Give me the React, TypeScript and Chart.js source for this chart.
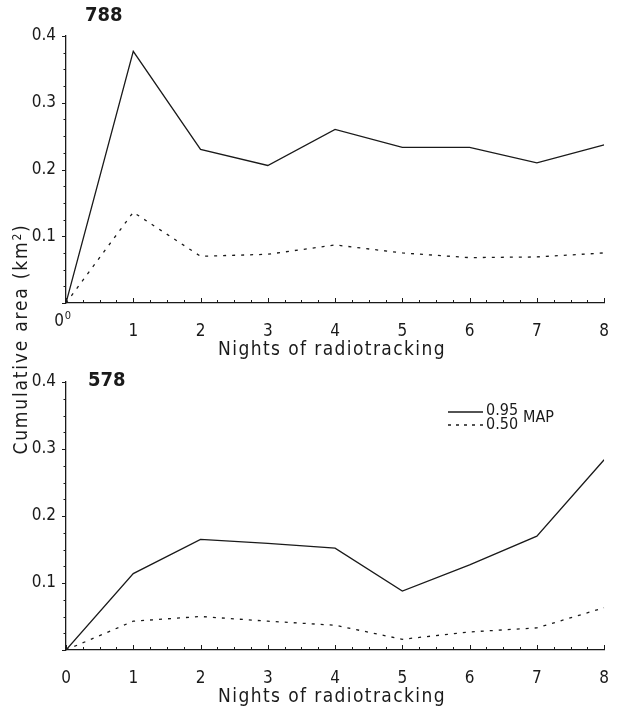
import React, { useEffect, useRef } from "react";
import { Chart, registerables } from "chart.js";

Chart.register(...registerables);

// ---- data ----
const nights = [0, 1, 2, 3, 4, 5, 6, 7, 8];
const map95_788 = [0, 0.377, 0.23, 0.206, 0.26, 0.233, 0.233, 0.21, 0.237];
const map50_788 = [0, 0.136, 0.07, 0.073, 0.087, 0.075, 0.068, 0.069, 0.075];
const map95_578 = [0, 0.114, 0.165, 0.159, 0.152, 0.088, 0.127, 0.17, 0.284];
const map50_578 = [0, 0.043, 0.05, 0.043, 0.037, 0.016, 0.027, 0.033, 0.063];
const yTickValues = [0.1, 0.2, 0.3, 0.4];
const panelTitles = ["788", "578"];
const xTitle = "Nights of radiotracking";
const legendLabels = ["0.95", "0.50"];
const legendSuffix = "MAP";

const FONT = "'Liberation Sans Narrow', 'DejaVu Sans Condensed', Roboto, sans-serif";
const INK = "#1a1a1a";

type PanelOpts = {
  title: string;
  titleX: number;
  titleY: number;
  padTop: number;
  legend: boolean;
  superZero: boolean;
};

function makeChart(canvas: HTMLCanvasElement, solid: number[], dashed: number[], o: PanelOpts) {
  const toPts = (arr: number[]) => nights.map((n, i) => ({ x: n, y: arr[i] }));
  const deco = {
    id: "deco",
    afterDraw(chart: any) {
      const ctx = chart.ctx as CanvasRenderingContext2D;
      const xs = chart.scales.x;
      const ys = chart.scales.y;
      const { left, bottom } = chart.chartArea;
      ctx.save();
      ctx.strokeStyle = INK;
      ctx.lineWidth = 1;
      // minor ticks on x (pointing up)
      for (let i = 0; i <= 32; i++) {
        const px = Math.round(xs.getPixelForValue(i * 0.25)) + 0.5;
        const len = i % 4 === 0 ? 5 : 3;
        ctx.beginPath();
        ctx.moveTo(px, bottom);
        ctx.lineTo(px, bottom - len);
        ctx.stroke();
      }
      // minor ticks on y (pointing left)
      for (let i = 0; i <= 16; i++) {
        const py = Math.round(ys.getPixelForValue(i * 0.025)) + 0.5;
        const len = i % 4 === 0 ? 4 : 2.5;
        ctx.beginPath();
        ctx.moveTo(left, py);
        ctx.lineTo(left - len, py);
        ctx.stroke();
      }
      ctx.fillStyle = INK;
      // x title
      (ctx as any).letterSpacing = "1.4px";
      ctx.font = `19px ${FONT}`;
      ctx.textAlign = "center";
      ctx.textBaseline = "middle";
      ctx.fillText(xTitle, 332, bottom + 47);
      (ctx as any).letterSpacing = "0px";
      // zero label for top panel
      if (o.superZero) {
        ctx.font = `17px ${FONT}`;
        ctx.textBaseline = "top";
        ctx.fillText("0", left - 7, bottom + 10);
        ctx.font = `11px ${FONT}`;
        ctx.fillText("0", left + 2, bottom + 8);
      }
      // panel title
      ctx.font = `bold 20px ${FONT}`;
      ctx.textAlign = "left";
      ctx.textBaseline = "middle";
      ctx.fillText(o.title, o.titleX, o.titleY);
      // legend
      if (o.legend) {
        const off = 360;
        ctx.lineWidth = 1.3;
        ctx.beginPath();
        ctx.moveTo(448, 412 - off);
        ctx.lineTo(483, 412 - off);
        ctx.stroke();
        ctx.setLineDash([3, 5]);
        ctx.beginPath();
        ctx.moveTo(448, 425 - off);
        ctx.lineTo(483, 425 - off);
        ctx.stroke();
        ctx.setLineDash([]);
        ctx.font = `16px ${FONT}`;
        ctx.textAlign = "left";
        ctx.fillText(legendLabels[0], 486, 411 - off);
        ctx.fillText(legendLabels[1], 486, 425 - off);
        ctx.fillText(legendSuffix, 523, 418 - off);
      }
      ctx.restore();
    },
  };

  return new Chart(canvas, {
    type: "line",
    data: {
      datasets: [
        {
          data: toPts(solid),
          borderColor: INK,
          borderWidth: 1.3,
          pointRadius: 0,
          tension: 0,
        },
        {
          data: toPts(dashed),
          borderColor: INK,
          borderWidth: 1.3,
          borderDash: [3, 6],
          pointRadius: 0,
          tension: 0,
        },
      ],
    },
    options: {
      animation: false,
      responsive: false,
      devicePixelRatio: 1,
      layout: { padding: { top: o.padTop, right: 5, left: 0, bottom: 0 } },
      plugins: { legend: { display: false }, tooltip: { enabled: false } },
      scales: {
        x: {
          type: "linear",
          min: 0,
          max: 8,
          grid: { display: false },
          border: { display: true, color: INK, width: 1.3 },
          ticks: {
            stepSize: 1,
            padding: 10,
            color: INK,
            font: { family: FONT, size: 17 },
            callback: (v: any) => (o.superZero && v === 0 ? "" : String(v)),
          },
          afterFit: (s: any) => {
            s.height = 57;
          },
        },
        y: {
          type: "linear",
          min: 0,
          max: 0.4,
          grid: { display: false },
          border: { display: true, color: INK, width: 1.3 },
          afterBuildTicks: (s: any) => {
            s.ticks = yTickValues.map((v) => ({ value: v }));
          },
          ticks: {
            padding: 2,
            color: INK,
            font: { family: FONT, size: 17 },
            callback: (v: any) => Number(v).toFixed(1),
          },
          afterFit: (s: any) => {
            s.width = 66;
          },
        },
      },
    },
    plugins: [deco],
  });
}

export default function App() {
  const c1 = useRef<HTMLCanvasElement>(null);
  const c2 = useRef<HTMLCanvasElement>(null);
  useEffect(() => {
    const a = makeChart(c1.current!, map95_788, map50_788, {
      title: panelTitles[0],
      titleX: 85,
      titleY: 16,
      padTop: 36,
      legend: false,
      superZero: true,
    });
    const b = makeChart(c2.current!, map95_578, map50_578, {
      title: panelTitles[1],
      titleX: 88,
      titleY: 21,
      padTop: 22,
      legend: true,
      superZero: false,
    });
    return () => {
      a.destroy();
      b.destroy();
    };
  }, []);
  return (
    <div style={{ position: "fixed", left: 0, top: 0, width: 619, height: 707, background: "#fff" }}>
      <canvas ref={c1} width={619} height={360} style={{ position: "absolute", left: 0, top: 0 }} />
      <canvas ref={c2} width={619} height={347} style={{ position: "absolute", left: 0, top: 360 }} />
      <div
        style={{
          position: "absolute",
          left: 20 - 160,
          top: 339 - 13,
          width: 320,
          height: 26,
          lineHeight: "26px",
          textAlign: "center",
          transform: "rotate(-90deg)",
          transformOrigin: "center",
          fontFamily: FONT,
          fontSize: 19,
          letterSpacing: "1.8px",
          color: INK,
          whiteSpace: "nowrap",
        }}
      >
        Cumulative area (km<sup style={{ fontSize: 12, verticalAlign: "6px", lineHeight: 0 }}>2</sup>)
      </div>
    </div>
  );
}
